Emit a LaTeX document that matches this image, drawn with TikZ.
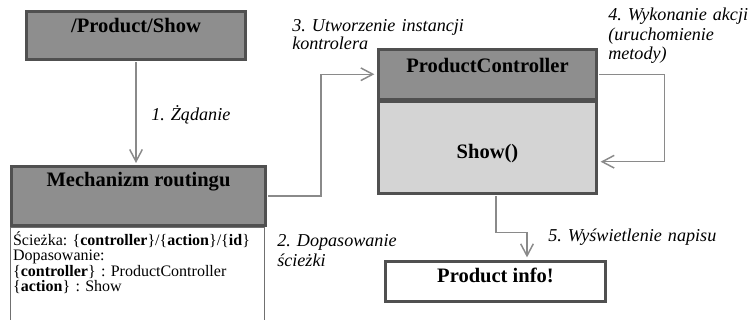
\documentclass[tikz,border=0pt]{standalone}
\usepackage{fontspec}
\setmainfont{Liberation Serif}
\usetikzlibrary{arrows.meta,calc}
\definecolor{boxline}{HTML}{505050}
\definecolor{headfill}{HTML}{8E8E8E}
\definecolor{bodyfill}{HTML}{D4D4D4}
\definecolor{linkgray}{HTML}{8A8A8A}
\definecolor{framegray}{HTML}{707070}
\frenchspacing

\begin{document}
\begin{tikzpicture}[x=0.75pt,y=-0.75pt,
  titlebox/.style={draw=boxline,line width=2.2pt,inner sep=0pt,font=\fontsize{15.4}{18}\selectfont\bfseries},
  link/.style={draw=linkgray,line width=1.1pt,shorten <=1.1pt,-{Straight Barb[length=9pt,width=9.5pt]}},
  steplabel/.style={anchor=base west,align=left,text width=5cm,inner sep=0pt,font=\itshape\fontsize{13.6}{14.6}\selectfont}]

\useasboundingbox (0,0) rectangle (753,320);

\node[titlebox,fill=headfill,minimum width=164.25pt,text height=16.1pt,text depth=19.9pt] (show) at (136,35.5) {/Product/Show};
\node[titlebox,fill=headfill,minimum width=190.5pt,text height=15.4pt,text depth=28.9pt] (routing) at (138.5,196) {Mechanizm routingu};
\node[draw=framegray,line width=0.6pt,anchor=north west,inner xsep=2pt,inner ysep=0pt,text width=186.5pt,align=left,text height=13.5pt,text depth=70pt,font=\fontsize{12}{11.5}\selectfont] (rules) at (routing.south west)
  {Ścieżka: \{\textbf{controller}\}/\{\textbf{action}\}/\{\textbf{id}\}\\
   Dopasowanie:\\
   \{\textbf{controller}\} : ProductController\\
   \{\textbf{action}\} : Show};

\node[titlebox,fill=headfill,minimum width=163.5pt,text height=16.9pt,text depth=20.25pt] (ctrl) at (487.5,74.25) {ProductController};
\node[titlebox,fill=bodyfill,minimum width=163.5pt,text height=42.75pt,text depth=25.9pt,anchor=north] (body) at (ctrl.south) {Show()};
\node[titlebox,fill=white,minimum width=165pt,text height=15.4pt,text depth=14.6pt] (info) at (495.5,281.5) {Product info!};

\draw[link,shorten >=1.5pt] (show.south) -- (show.south |- routing.north);
\draw[link,shorten >=2pt] (routing.east) -- ++(54,0) |- (ctrl.west);
\draw[link,shorten >=2pt] (ctrl.east) -- ++(66.5,0) |- ($(body.east)+(0,14)$);
\draw[link,shorten >=2pt] ($(body.south)+(8.5,0)$) -- ++(0,37.5) -| ($(info.north)+(31.5,0)$);

\node[steplabel] (lab1) at (151,121) {1. Żądanie};
\node[steplabel,font=\itshape\fontsize{13.6}{15}\selectfont] (lab2) at (277,247) {2. Dopasowanie\\ścieżki};
\node[steplabel,font=\itshape\fontsize{13.6}{12}\selectfont] (lab3) at (292,32) {3. Utworzenie instancji\\kontrolera};
\node[steplabel] (lab4) at (608,21) {4. Wykonanie akcji\\(uruchomienie\\metody)};
\node[steplabel] (lab5) at (548,242) {5. Wyświetlenie napisu};

\end{tikzpicture}
\end{document}
